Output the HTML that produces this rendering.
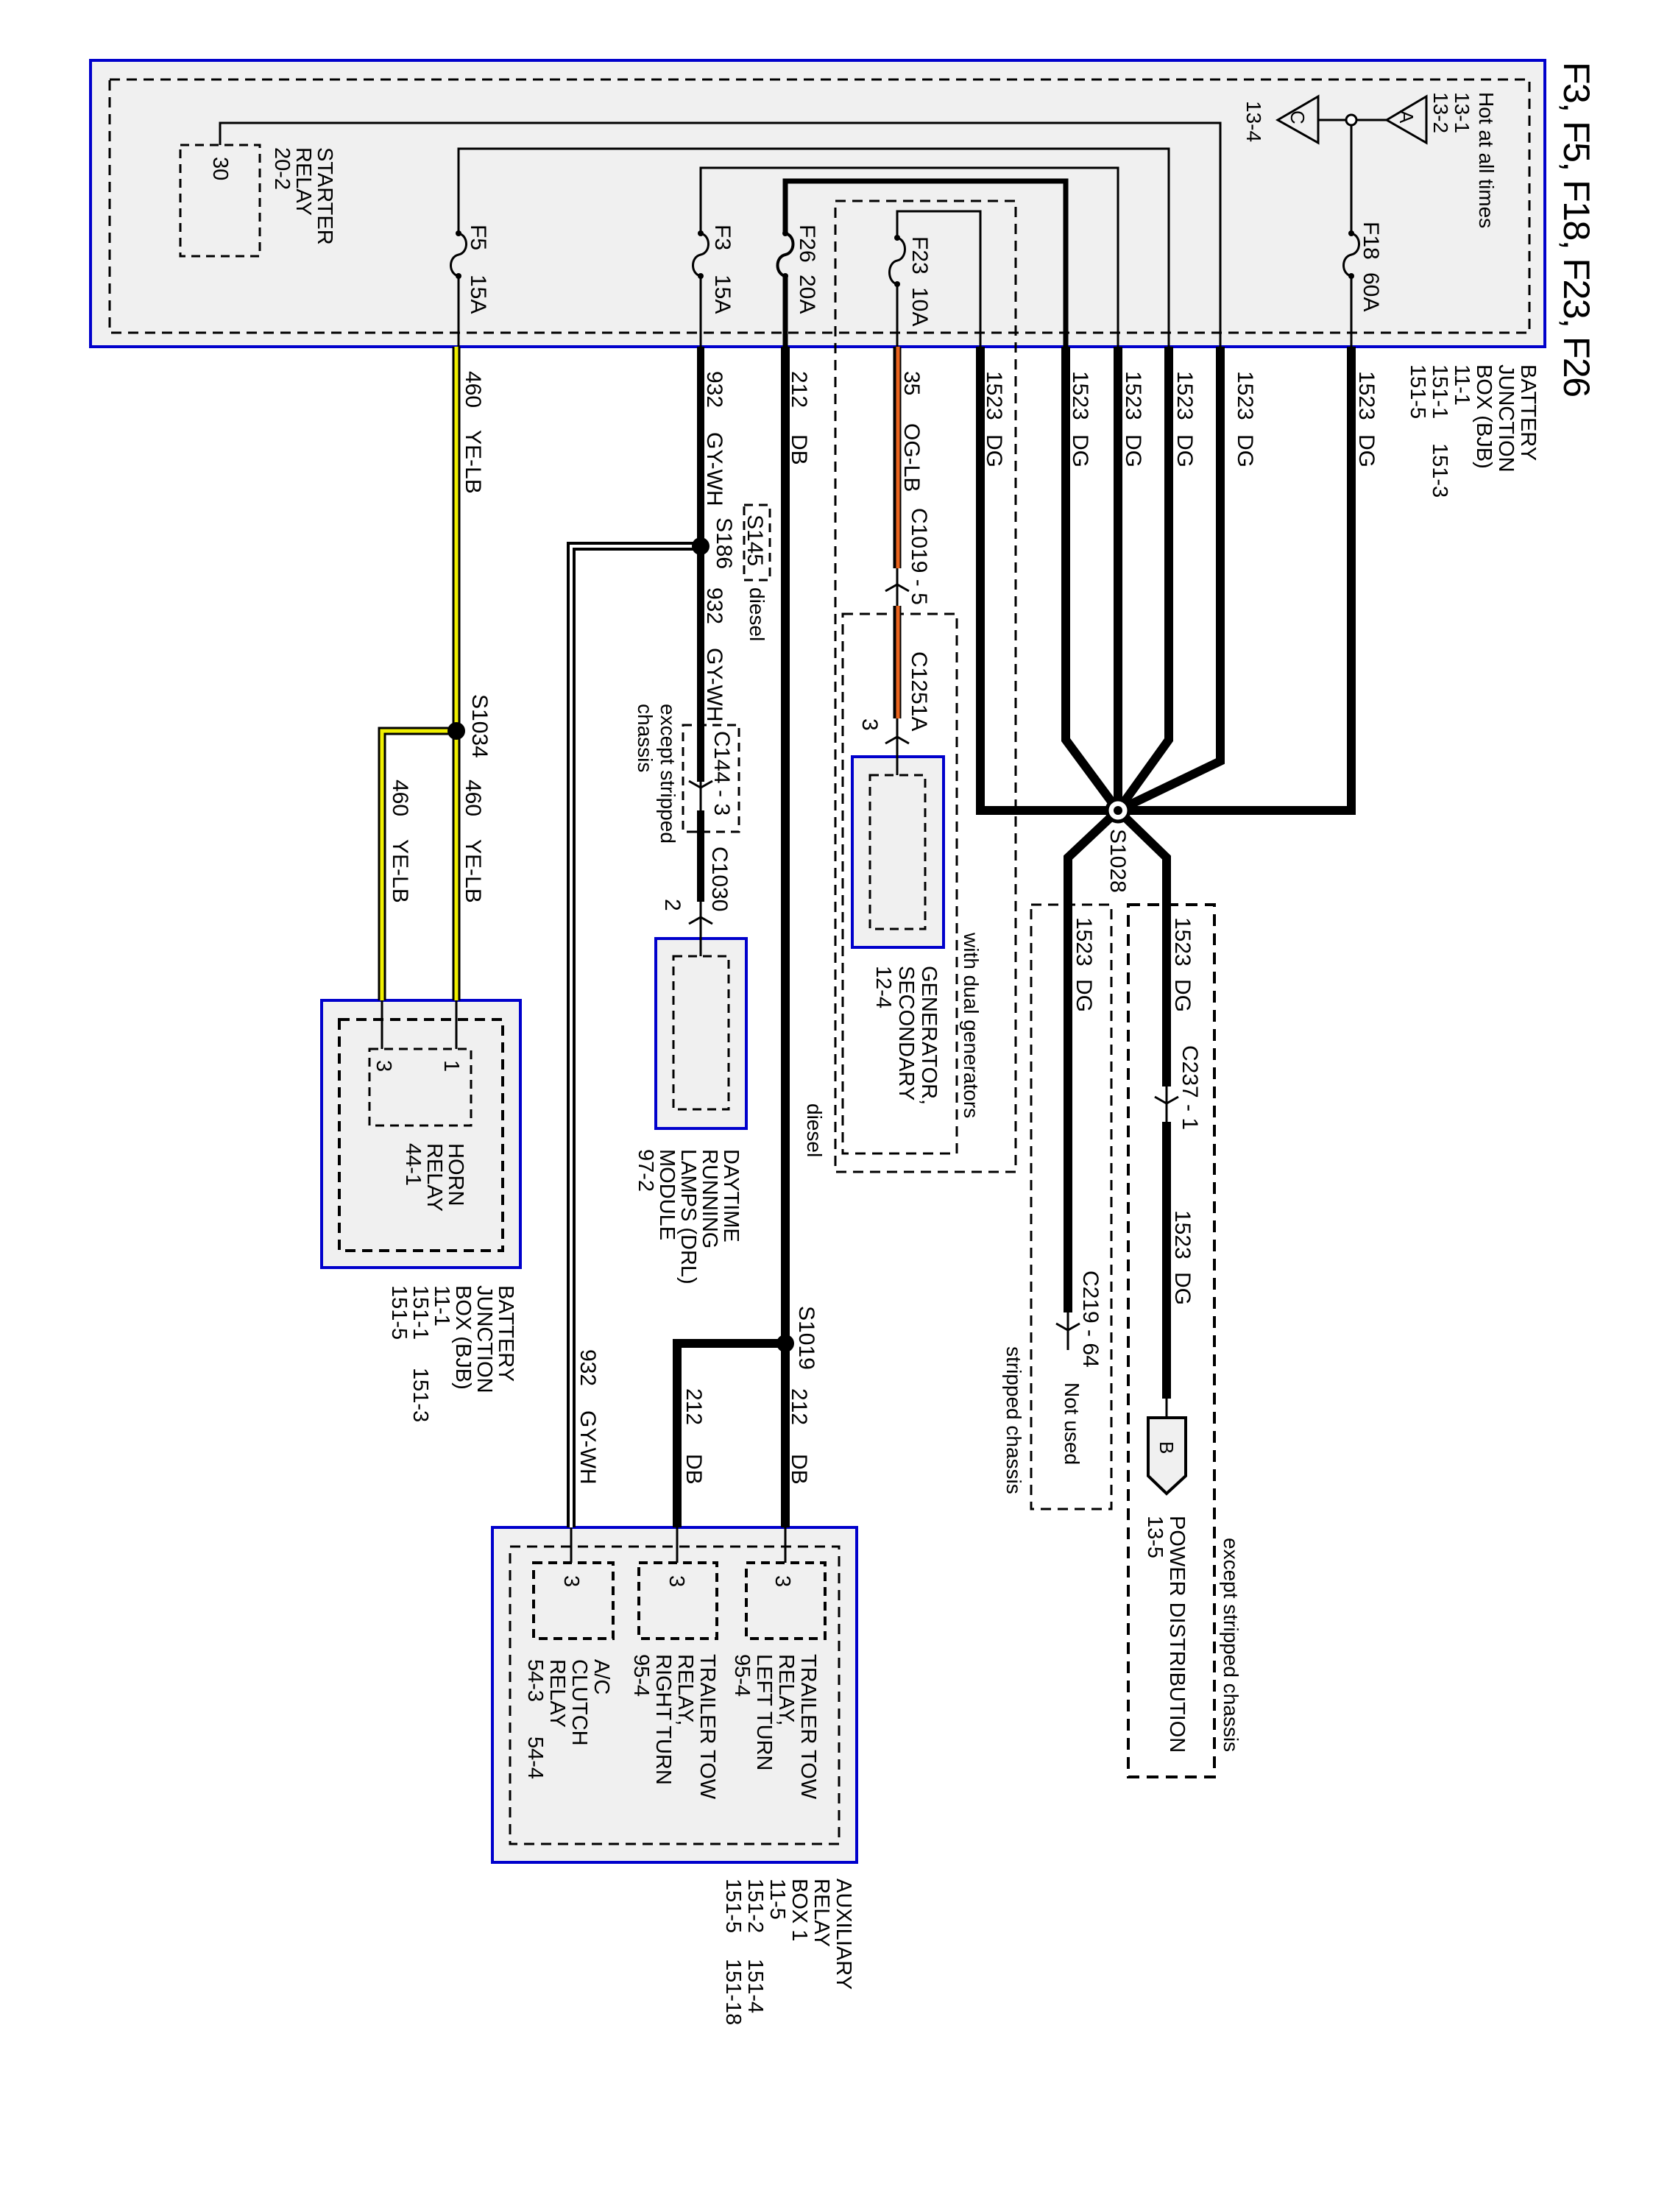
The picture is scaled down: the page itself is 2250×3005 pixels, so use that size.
<!DOCTYPE html>
<html><head><meta charset="utf-8"><style>
html,body{margin:0;padding:0;background:#fff;}
svg text{font-family:"Liberation Sans",Arial,sans-serif;font-size:30px;fill:#000;}
.s{font-size:28px;}
.m{font-size:29px;}
</style></head><body>
<svg xmlns="http://www.w3.org/2000/svg" width="2250" height="3000" viewBox="0 0 2250 3000">
<rect width="2250" height="3000" fill="#fff"/>
<!-- BJB box -->
<rect x="123" y="82" width="1976" height="389" fill="#f0f0f0" stroke="#0000cc" stroke-width="4"/>
<rect x="149" y="108" width="1929" height="344" fill="none" stroke="#000" stroke-width="3" stroke-dasharray="14 9"/>
<rect x="245" y="197" width="108" height="151" fill="none" stroke="#000" stroke-width="3" stroke-dasharray="12 8"/>
<!-- dashed condition boxes -->
<rect x="1135" y="273" width="245" height="1319" fill="none" stroke="#000" stroke-width="3" stroke-dasharray="14 9"/>
<rect x="1145" y="834" width="155" height="733" fill="none" stroke="#000" stroke-width="3" stroke-dasharray="14 9"/>
<rect x="1011" y="686" width="35" height="102" fill="none" stroke="#000" stroke-width="3" stroke-dasharray="12 8"/>
<rect x="928" y="985" width="76" height="145" fill="none" stroke="#000" stroke-width="3" stroke-dasharray="12 8"/>
<rect x="1401" y="1229" width="109" height="821" fill="none" stroke="#000" stroke-width="3" stroke-dasharray="14 9"/>
<rect x="1533" y="1229" width="117" height="1185" fill="none" stroke="#000" stroke-width="4" stroke-dasharray="16 10"/>

<!-- components -->
<rect x="1158" y="1028" width="124" height="259" fill="#f0f0f0" stroke="#0000cc" stroke-width="4"/>
<rect x="1182" y="1053" width="75" height="209" fill="none" stroke="#000" stroke-width="3" stroke-dasharray="12 8"/>
<rect x="891" y="1275" width="123" height="258" fill="#f0f0f0" stroke="#0000cc" stroke-width="4"/>
<rect x="915" y="1299" width="75" height="208" fill="none" stroke="#000" stroke-width="3" stroke-dasharray="12 8"/>
<rect x="437" y="1359" width="270" height="363" fill="#f0f0f0" stroke="#0000cc" stroke-width="4"/>
<rect x="461" y="1385" width="222" height="314" fill="none" stroke="#000" stroke-width="4" stroke-dasharray="14 9"/>
<rect x="502" y="1425" width="138" height="104" fill="none" stroke="#000" stroke-width="3" stroke-dasharray="12 8"/>
<rect x="669" y="2075" width="495" height="455" fill="#f0f0f0" stroke="#0000cc" stroke-width="4"/>
<rect x="693" y="2101" width="447" height="404" fill="none" stroke="#000" stroke-width="3" stroke-dasharray="14 9"/>
<rect x="725" y="2123" width="108" height="103" fill="none" stroke="#000" stroke-width="4" stroke-dasharray="12 8"/>
<rect x="868" y="2123" width="106" height="103" fill="none" stroke="#000" stroke-width="4" stroke-dasharray="12 8"/>
<rect x="1014" y="2123" width="107" height="103" fill="none" stroke="#000" stroke-width="4" stroke-dasharray="12 8"/>

<!-- internal BJB thin wires -->
<g fill="none" stroke="#000" stroke-width="3">
<polyline points="299,197 299,167 1658,167 1658,471"/>
<polyline points="623,317 623,202 1588,202 1588,471"/>
<polyline points="952,317 952,228 1519,228 1519,471"/>
<polyline points="1219,323 1219,287 1332,287 1332,471"/>
<line x1="623" y1="375" x2="623" y2="471"/>
<line x1="952" y1="375" x2="952" y2="471"/>
<line x1="1219" y1="386" x2="1219" y2="471"/>
<line x1="1836" y1="163" x2="1836" y2="317"/>
<line x1="1836" y1="375" x2="1836" y2="471"/>
<line x1="1791" y1="163" x2="1884" y2="163"/>
<polygon points="1884,163 1938,131 1938,194"/>
<polygon points="1736,163 1791,131 1791,194"/>
<!-- fuses -->
<path d="M623 317 C637 320 637 343 623 346 C609 349 609 372 623 375"/>
<path d="M952 317 C966 320 966 343 952 346 C938 349 938 372 952 375"/>
<path d="M1219 323 C1233 326 1233 351 1219 354 C1205 357 1205 383 1219 386"/>
<path d="M1836 317 C1850 320 1850 343 1836 346 C1822 349 1822 372 1836 375"/>
</g>
<polyline points="1067,317 1067,246 1448,246 1448,471" fill="none" stroke="#000" stroke-width="7"/>
<line x1="1067" y1="375" x2="1067" y2="471" stroke="#000" stroke-width="7"/>
<path d="M1067 317 C1081 320 1081 343 1067 346 C1053 349 1053 372 1067 375" fill="none" stroke="#000" stroke-width="4"/>
<circle cx="1836" cy="163" r="7" fill="#fff" stroke="#000" stroke-width="3"/>
<g fill="#000">
<circle cx="623" cy="317" r="4"/><circle cx="623" cy="375" r="4"/>
<circle cx="952" cy="317" r="4"/><circle cx="952" cy="375" r="4"/>
<circle cx="1067" cy="317" r="4"/><circle cx="1067" cy="375" r="4"/>
<circle cx="1219" cy="323" r="4"/><circle cx="1219" cy="386" r="4"/>
<circle cx="1836" cy="317" r="4"/><circle cx="1836" cy="375" r="4"/>
</g>

<!-- thick 1523 wires -->
<g fill="none" stroke="#000" stroke-width="12" stroke-linejoin="miter">
<polyline points="1332,471 1332,1101 1836,1101 1836,471"/>
<polyline points="1448,471 1448,1005 1519,1101"/>
<polyline points="1588,471 1588,1005 1519,1101"/>
<polyline points="1658,471 1658,1034 1519,1101"/>
<line x1="1519" y1="471" x2="1519" y2="1101"/>
<polyline points="1519,1101 1451,1165 1451,1783"/>
<polyline points="1519,1101 1585,1165 1585,1476"/>
<line x1="1585" y1="1524" x2="1585" y2="1900"/>
<!-- 212 -->
<line x1="1067" y1="471" x2="1067" y2="2075"/>
<polyline points="1067,1825 920,1825 920,2075"/>
</g>
<circle cx="1519" cy="1101" r="15" fill="#fff" stroke="#000" stroke-width="5"/>
<circle cx="1519" cy="1101" r="6" fill="#000"/>

<!-- 932 -->
<g fill="none" stroke="#000" stroke-linejoin="miter">
<line x1="952" y1="471" x2="952" y2="1062" stroke-width="10"/>
<line x1="952" y1="1101" x2="952" y2="1225" stroke-width="10"/>
<polyline points="952,742 776,742 776,2075" stroke-width="12"/>
</g>
<polyline points="952,742 776,742 776,2075" fill="none" stroke="#fff" stroke-width="4" stroke-linejoin="miter"/>
<line x1="952" y1="742" x2="952" y2="742" stroke="#fff"/>
<!-- yellow 460 -->
<g fill="none" stroke-linejoin="miter">
<line x1="620" y1="471" x2="620" y2="1359" stroke="#000" stroke-width="11"/>
<polyline points="620,993 519,993 519,1359" stroke="#000" stroke-width="11"/>
<line x1="620" y1="471" x2="620" y2="1359" stroke="#f0f000" stroke-width="5"/>
<polyline points="614,993 519,993 519,1359" stroke="#f0f000" stroke-width="5"/>
<!-- orange 35 -->
<line x1="1219" y1="471" x2="1219" y2="772" stroke="#000" stroke-width="11"/>
<line x1="1219" y1="823" x2="1219" y2="976" stroke="#000" stroke-width="11"/>
<line x1="1220" y1="471" x2="1220" y2="772" stroke="#e8641e" stroke-width="5"/>
<line x1="1220" y1="823" x2="1220" y2="976" stroke="#e8641e" stroke-width="5"/>
</g>
<!-- thin stubs -->
<g fill="none" stroke="#000" stroke-width="3">
<line x1="620" y1="1359" x2="620" y2="1425"/>
<line x1="519" y1="1359" x2="519" y2="1425"/>
<line x1="776" y1="2075" x2="776" y2="2123"/>
<line x1="920" y1="2075" x2="920" y2="2123"/>
<line x1="1067" y1="2075" x2="1067" y2="2123"/>
<line x1="952" y1="1062" x2="952" y2="1101"/>
<line x1="952" y1="1225" x2="952" y2="1299"/>
<line x1="940" y1="1130" x2="964" y2="1130"/>
<line x1="1219" y1="772" x2="1219" y2="823"/>
<line x1="1219" y1="976" x2="1219" y2="1053"/>
<line x1="1451" y1="1783" x2="1451" y2="1834"/>
<line x1="1585" y1="1476" x2="1585" y2="1524"/>
<line x1="1585" y1="1900" x2="1585" y2="1926"/>
<!-- chevrons -->
<polyline points="1203,803 1219,794 1235,803"/>
<polyline points="1203,1010 1219,1001 1235,1010"/>
<polyline points="936,1061 952,1070 968,1061"/>
<polyline points="936,1255 952,1246 968,1255"/>
<polyline points="1435,1798 1451,1807 1467,1798"/>
<polyline points="1569,1490 1585,1499 1601,1490"/>
</g>
<g fill="#000">
<circle cx="952" cy="742" r="12"/>
<circle cx="620" cy="993" r="12"/>
<circle cx="1067" cy="1825" r="12"/>
</g>
<polygon points="1560,1926 1611,1926 1611,2005 1585,2029 1560,2005" fill="#f0f0f0" stroke="#000" stroke-width="4"/>

<!-- TEXT -->
<text transform="translate(2125,84) rotate(90)" style="font-size:50px" textLength="456">F3, F5, F18, F23, F26</text>
<text transform="translate(2067,495) rotate(90)" class="m"><tspan x="0">BATTERY</tspan><tspan x="0" dy="30">JUNCTION</tspan><tspan x="0" dy="30">BOX (BJB)</tspan><tspan x="0" dy="30">11-1</tspan><tspan x="0" dy="30">151-1</tspan><tspan x="0" dy="30">151-5</tspan></text>
<text transform="translate(1947,602) rotate(90)" class="m">151-3</text>
<text transform="translate(2010,125) rotate(90)" class="s">Hot at all times</text>
<text transform="translate(1977,125) rotate(90)" class="s">13-1</text>
<text transform="translate(1948,125) rotate(90)" class="s">13-2</text>
<text transform="translate(1694,137) rotate(90)" class="s">13-4</text>
<text transform="translate(1902,150) rotate(90)" style="font-size:26px">A</text>
<text transform="translate(1754,150) rotate(90)" style="font-size:26px">C</text>
<text transform="translate(1853,301) rotate(90)">F18</text>
<text transform="translate(1853,370) rotate(90)">60A</text>
<text transform="translate(640,305) rotate(90)">F5</text>
<text transform="translate(640,373) rotate(90)">15A</text>
<text transform="translate(972,305) rotate(90)">F3</text>
<text transform="translate(972,373) rotate(90)">15A</text>
<text transform="translate(1087,305) rotate(90)">F26</text>
<text transform="translate(1087,373) rotate(90)">20A</text>
<text transform="translate(1240,321) rotate(90)">F23</text>
<text transform="translate(1240,390) rotate(90)">10A</text>
<text transform="translate(432,200) rotate(90)" class="m"><tspan x="0">STARTER</tspan><tspan x="0" dy="29">RELAY</tspan><tspan x="0" dy="29">20-2</tspan></text>
<text transform="translate(290,213) rotate(90)" class="m">30</text>

<text transform="translate(633,504) rotate(90)">460</text>
<text transform="translate(633,584) rotate(90)">YE-LB</text>
<text transform="translate(961,504) rotate(90)">932</text>
<text transform="translate(961,587) rotate(90)">GY-WH</text>
<text transform="translate(1076,504) rotate(90)">212</text>
<text transform="translate(1076,590) rotate(90)">DB</text>
<text transform="translate(1229,504) rotate(90)">35</text>
<text transform="translate(1229,575) rotate(90)">OG-LB</text>
<text transform="translate(1239,690) rotate(90)">C1019 - 5</text>
<text transform="translate(1341,504) rotate(90)">1523</text><text transform="translate(1341,590) rotate(90)">DG</text>
<text transform="translate(1458,504) rotate(90)">1523</text><text transform="translate(1458,590) rotate(90)">DG</text>
<text transform="translate(1530,504) rotate(90)">1523</text><text transform="translate(1530,590) rotate(90)">DG</text>
<text transform="translate(1600,504) rotate(90)">1523</text><text transform="translate(1600,590) rotate(90)">DG</text>
<text transform="translate(1682,504) rotate(90)">1523</text><text transform="translate(1682,590) rotate(90)">DG</text>
<text transform="translate(1847,504) rotate(90)">1523</text><text transform="translate(1847,590) rotate(90)">DG</text>

<text transform="translate(974,703) rotate(90)">S186</text>
<text transform="translate(1016,699) rotate(90)">S145</text>
<text transform="translate(1019,798) rotate(90)" class="s">diesel</text>
<text transform="translate(961,798) rotate(90)">932</text>
<text transform="translate(961,880) rotate(90)">GY-WH</text>
<text transform="translate(642,943) rotate(90)">S1034</text>
<text transform="translate(633,1059) rotate(90)">460</text>
<text transform="translate(633,1140) rotate(90)">YE-LB</text>
<text transform="translate(534,1059) rotate(90)">460</text>
<text transform="translate(534,1140) rotate(90)">YE-LB</text>
<text transform="translate(898,956) rotate(90)" class="s"><tspan x="0">except stripped</tspan><tspan x="0" dy="31">chassis</tspan></text>
<text transform="translate(971,993) rotate(90)">C144 - 3</text>
<text transform="translate(968,1150) rotate(90)">C1030</text>
<text transform="translate(904,1221) rotate(90)">2</text>
<text transform="translate(1239,885) rotate(90)">C1251A</text>
<text transform="translate(1172,976) rotate(90)">3</text>
<text transform="translate(1253,1312) rotate(90)" class="m"><tspan x="0">GENERATOR,</tspan><tspan x="0" dy="31">SECONDARY</tspan><tspan x="0" dy="31">12-4</tspan></text>
<text transform="translate(1310,1267) rotate(90)" class="s">with dual generators</text>
<text transform="translate(1097,1499) rotate(90)" class="s">diesel</text>
<text transform="translate(1509,1126) rotate(90)">S1028</text>
<text transform="translate(1463,1246) rotate(90)">1523</text><text transform="translate(1463,1330) rotate(90)">DG</text>
<text transform="translate(1597,1246) rotate(90)">1523</text><text transform="translate(1597,1330) rotate(90)">DG</text>
<text transform="translate(1607,1420) rotate(90)">C237 - 1</text>
<text transform="translate(1597,1644) rotate(90)">1523</text><text transform="translate(1597,1728) rotate(90)">DG</text>
<text transform="translate(1472,1726) rotate(90)">C219 - 64</text>
<text transform="translate(1447,1878) rotate(90)" class="s">Not used</text>
<text transform="translate(1368,1829) rotate(90)" class="s">stripped chassis</text>
<text transform="translate(1576,1958) rotate(90)" style="font-size:26px">B</text>
<text transform="translate(1590,2059) rotate(90)" class="m"><tspan x="0">POWER DISTRIBUTION</tspan><tspan x="0" dy="30">13-5</tspan></text>
<text transform="translate(1663,2089) rotate(90)" class="s">except stripped chassis</text>

<text transform="translate(610,1553) rotate(90)" class="m"><tspan x="0">HORN</tspan><tspan x="0" dy="29">RELAY</tspan><tspan x="0" dy="29">44-1</tspan></text>
<text transform="translate(512,1440) rotate(90)" class="m">3</text>
<text transform="translate(604,1440) rotate(90)" class="m">1</text>
<text transform="translate(678,1746) rotate(90)" class="m"><tspan x="0">BATTERY</tspan><tspan x="0" dy="29">JUNCTION</tspan><tspan x="0" dy="29">BOX (BJB)</tspan><tspan x="0" dy="29">11-1</tspan><tspan x="0" dy="29">151-1</tspan><tspan x="0" dy="29">151-5</tspan></text>
<text transform="translate(562,1858) rotate(90)" class="m">151-3</text>
<text transform="translate(984,1561) rotate(90)" class="m"><tspan x="0">DAYTIME</tspan><tspan x="0" dy="29">RUNNING</tspan><tspan x="0" dy="29">LAMPS (DRL)</tspan><tspan x="0" dy="29">MODULE</tspan><tspan x="0" dy="29">97-2</tspan></text>

<text transform="translate(1086,1774) rotate(90)">S1019</text>
<text transform="translate(1076,1886) rotate(90)">212</text><text transform="translate(1076,1975) rotate(90)">DB</text>
<text transform="translate(933,1886) rotate(90)">212</text><text transform="translate(933,1975) rotate(90)">DB</text>
<text transform="translate(789,1833) rotate(90)">932</text><text transform="translate(789,1916) rotate(90)">GY-WH</text>
<text transform="translate(767,2140) rotate(90)" class="m">3</text>
<text transform="translate(910,2140) rotate(90)" class="m">3</text>
<text transform="translate(1054,2140) rotate(90)" class="m">3</text>
<text transform="translate(1089,2247) rotate(90)" class="m"><tspan x="0">TRAILER TOW</tspan><tspan x="0" dy="30">RELAY,</tspan><tspan x="0" dy="30">LEFT TURN</tspan><tspan x="0" dy="30">95-4</tspan></text>
<text transform="translate(952,2247) rotate(90)" class="m"><tspan x="0">TRAILER TOW</tspan><tspan x="0" dy="30">RELAY,</tspan><tspan x="0" dy="30">RIGHT TURN</tspan><tspan x="0" dy="30">95-4</tspan></text>
<text transform="translate(808,2254) rotate(90)" class="m"><tspan x="0">A/C</tspan><tspan x="0" dy="30">CLUTCH</tspan><tspan x="0" dy="30">RELAY</tspan><tspan x="0" dy="30">54-3</tspan></text>
<text transform="translate(718,2359) rotate(90)" class="m">54-4</text>
<text transform="translate(1137,2552) rotate(90)" class="m"><tspan x="0">AUXILIARY</tspan><tspan x="0" dy="30">RELAY</tspan><tspan x="0" dy="30">BOX 1</tspan><tspan x="0" dy="30">11-5</tspan><tspan x="0" dy="30">151-2</tspan><tspan x="0" dy="30">151-5</tspan></text>
<text transform="translate(1017,2661) rotate(90)" class="m">151-4</text>
<text transform="translate(987,2661) rotate(90)" class="m">151-18</text>
</svg>
</body></html>
